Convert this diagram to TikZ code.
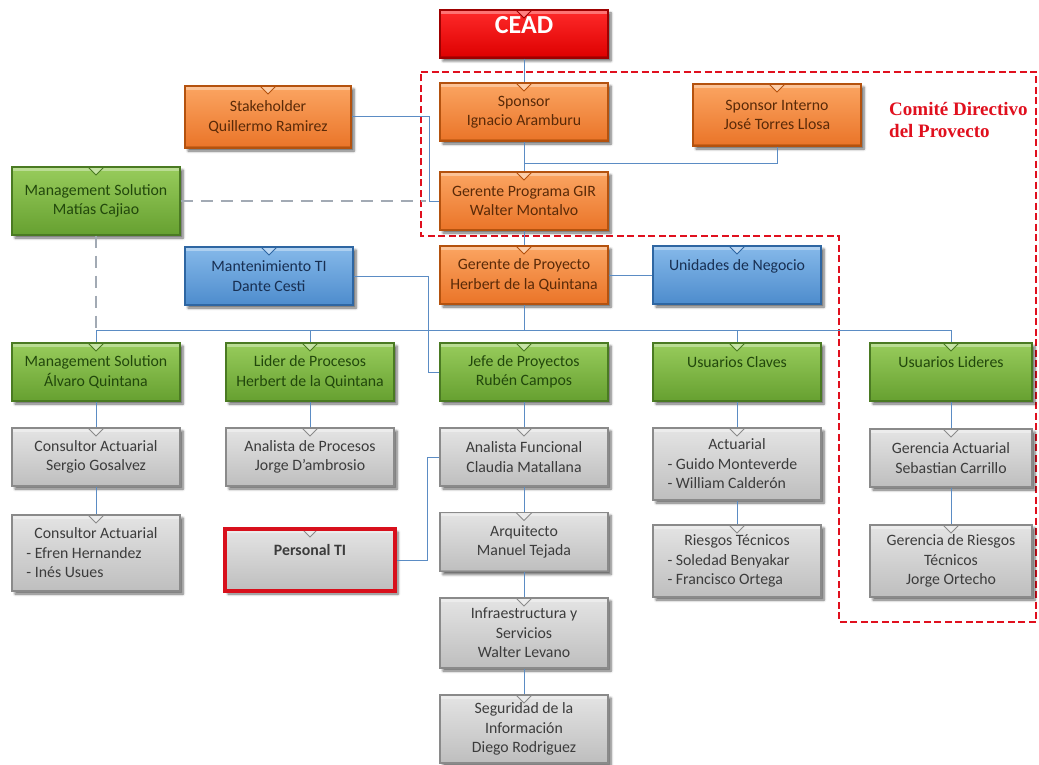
\documentclass[tikz,border=0pt]{standalone}
\usepackage{fontspec}
\setmainfont{Carlito}
\newfontfamily\titleserif{Liberation Serif}
\usetikzlibrary{shadows.blur}

% box palettes
\definecolor{orgTop}{HTML}{FBA562}
\definecolor{orgBot}{HTML}{EA7428}
\definecolor{orgLine}{HTML}{B4520E}
\definecolor{orgText}{HTML}{5A2A08}
\definecolor{grnTop}{HTML}{98CC5C}
\definecolor{grnBot}{HTML}{66A030}
\definecolor{grnLine}{HTML}{4A7A22}
\definecolor{grnText}{HTML}{22480C}
\definecolor{bluTop}{HTML}{86B9EA}
\definecolor{bluBot}{HTML}{4D8CCD}
\definecolor{bluLine}{HTML}{2E66A2}
\definecolor{bluText}{HTML}{182F52}
\definecolor{gryTop}{HTML}{E4E4E4}
\definecolor{gryBot}{HTML}{BEBEBE}
\definecolor{gryLine}{HTML}{8A8A8A}
\definecolor{gryText}{HTML}{3C3C3C}
\definecolor{redTop}{HTML}{FF2A2A}
\definecolor{redBot}{HTML}{DD0000}
\definecolor{redLine}{HTML}{9E0000}
\definecolor{alertRed}{HTML}{D8101C}
\definecolor{commRed}{HTML}{E0101E}
\definecolor{connBlue}{HTML}{5B8CC4}
\definecolor{linkGray}{HTML}{A2AAB4}

% bevel edges and the little V notch at the top centre of every box
\newcommand\notchmark[2]{%
  \draw[#2, line width=3pt, opacity=0.55]
            (path picture bounding box.north east) --
            (path picture bounding box.south east) --
            (path picture bounding box.south west);
  \draw[white, opacity=0.35, line width=2.5pt]
            ([yshift=-2.5pt]path picture bounding box.north west) --
            ([yshift=-2.5pt]path picture bounding box.north east);
  \fill[#1] ([xshift=-8pt]path picture bounding box.north) --
            ([xshift=8pt]path picture bounding box.north) --
            ([yshift=-8pt]path picture bounding box.north) -- cycle;
  \draw[#2, line width=0.8pt] ([xshift=-8pt]path picture bounding box.north) --
            ([yshift=-8pt]path picture bounding box.north) --
            ([xshift=8pt]path picture bounding box.north);
}

\tikzset{
  box/.style={draw, line width=1.2pt, minimum width=168pt, minimum height=58pt,
    inner sep=2pt, align=center, font=\fontsize{15.8}{19.5}\selectfont,
    blur shadow={shadow xshift=3pt, shadow yshift=-3pt,
      shadow blur radius=2.5pt, shadow blur steps=5, shadow opacity=60}},
  orangebox/.style={box, top color=orgTop, bottom color=orgBot, draw=orgLine,
    text=orgText, path picture={\notchmark{orgTop!55!white}{orgLine}}},
  greenbox/.style={box, top color=grnTop, bottom color=grnBot, draw=grnLine,
    text=grnText, path picture={\notchmark{grnTop!55!white}{grnLine}}},
  bluebox/.style={box, top color=bluTop, bottom color=bluBot, draw=bluLine,
    text=bluText, path picture={\notchmark{bluTop!55!white}{bluLine}}},
  graybox/.style={box, top color=gryTop, bottom color=gryBot, draw=gryLine,
    text=gryText, path picture={\notchmark{gryTop!70!white}{gryLine}}},
  redbox/.style={box, top color=redTop, bottom color=redBot, draw=redLine,
    text=white, path picture={\notchmark{redTop!60!white}{redLine}}},
  alertbox/.style={graybox, draw=alertRed, line width=4.5pt},
  conn/.style={draw=connBlue, line width=1pt},
  dashlink/.style={draw=linkGray, line width=2pt, dash pattern=on 12pt off 8pt},
  committee/.style={draw=commRed, line width=2.5pt, dash pattern=on 7pt off 3.5pt}
}

\newcommand\listline[1]{\makebox[139pt][l]{#1}}

\begin{document}
\begin{tikzpicture}[x=1pt, y=-1pt]
\useasboundingbox (0,0) rectangle (1039,765);

% steering committee frame
\draw[committee] (421,72) -- (1036,72) -- (1036,622) -- (839,622)
                 -- (839,236) -- (421,236) -- cycle;
\node[font=\titleserif\bfseries\fontsize{19}{22.5}\selectfont, text=commRed,
      align=left, anchor=west, inner sep=0pt] (comite) at (889,120)
      {Comité Directivo\\del Provecto};

% top levels
\node[redbox, minimum height=48pt, font=\bfseries\fontsize{26}{31}\selectfont]
     (cead) at (524,34) {CEAD\\[-13pt]\mbox{}};
\node[orangebox, minimum width=166pt, minimum height=62pt] (stake) at (268,117)
     {Stakeholder\\Quillermo Ramirez};
\node[orangebox] (sponsor) at (524,112) {Sponsor\\Ignacio Aramburu};
\node[orangebox, minimum height=62pt] (sponint) at (777,115)
     {Sponsor Interno\\José Torres Llosa};
\node[orangebox] (gir) at (524,201) {Gerente Programa GIR\\Walter Montalvo};
\node[greenbox, minimum height=68pt] (msmat) at (96,201)
     {Management Solution\\Matías Cajiao};
\node[bluebox] (mant) at (269,276) {Mantenimiento TI\\Dante Cesti};
\node[orangebox] (gproy) at (524,275) {Gerente de Proyecto\\Herbert de la Quintana};
\node[bluebox] (unid) at (737,275) {Unidades de Negocio\\\mbox{}};

% green row
\node[greenbox] (msalv) at (96,372) {Management Solution\\Álvaro Quintana};
\node[greenbox] (lider) at (310,372) {Lider de Procesos\\Herbert de la Quintana};
\node[greenbox] (jefe) at (524,372) {Jefe de Proyectos\\Rubén Campos};
\node[greenbox] (usucl) at (737,372) {Usuarios Claves\\\mbox{}};
\node[greenbox, minimum width=162pt] (usuli) at (951,372) {Usuarios Lideres\\\mbox{}};

% first grey row
\node[graybox] (cons1) at (96,457) {Consultor Actuarial\\Sergio Gosalvez};
\node[graybox] (anproc) at (310,457) {Analista de Procesos\\Jorge D’ambrosio};
\node[graybox] (anfun) at (524,457) {Analista Funcional\\Claudia Matallana};
\node[graybox, minimum height=72pt] (actu) at (737,464)
     {Actuarial\\\listline{- Guido Monteverde}\\\listline{- William Calderón}};
\node[graybox, minimum width=162pt] (geract) at (951,458)
     {Gerencia Actuarial\\Sebastian Carrillo};

% second grey row
\node[graybox, minimum height=76pt] (cons2) at (96,553)
     {Consultor Actuarial\\\listline{- Efren Hernandez}\\\listline{- Inés Usues}};
\node[alertbox, minimum width=170pt, minimum height=62pt] (perso) at (310,560)
     {\textbf{Personal TI}\\\mbox{}};
\node[graybox, minimum height=59pt] (arq) at (524,542) {Arquitecto\\Manuel Tejada};
\node[graybox, minimum height=72pt] (ries) at (737,561)
     {Riesgos Técnicos\\\listline{- Soledad Benyakar}\\\listline{- Francisco Ortega}};
\node[graybox, minimum width=162pt, minimum height=72pt] (gerries) at (951,561)
     {Gerencia de Riesgos\\Técnicos\\Jorge Ortecho};

% IT column
\node[graybox, minimum height=70pt] (infra) at (524,633)
     {Infraestructura y\\Servicios\\Walter Levano};
\node[graybox, minimum height=68pt] (segu) at (524,729)
     {Seguridad de la\\Información\\Diego Rodriguez};

% junction points
\coordinate (sj) at (524,164);
\coordinate (bus) at (524,330);

% connectors
\draw[conn] (cead.south) -- (sponsor.north);
\draw[conn] (sponsor.south) -- (gir.north);
\draw[conn] (sponint.south) |- (sj);
\draw[conn] (stake.east) -- ++(78,0) |- (gir.west);
\draw[dashlink] (msmat.east) -- ++(245,0);
\draw[dashlink] (msmat.south) -- (msmat.south |- bus);
\draw[conn] (gir.south) -- (gproy.north);
\draw[conn] (gproy.east) -- (unid.west);
\draw[conn] (gproy.south) -- (bus);
\draw[conn] (bus) -| (msalv.north);
\draw[conn] (bus) -| (lider.north);
\draw[conn] (bus) -| (usucl.north);
\draw[conn] (bus) -| (usuli.north);
\draw[conn] (mant.east) -- ++(75,0) |- (jefe.west);
\draw[conn] (msalv.south) -- (cons1.north);
\draw[conn] (cons1.south) -- (cons2.north);
\draw[conn] (lider.south) -- (anproc.north);
\draw[conn] (jefe.south) -- (anfun.north);
\draw[conn] (anfun.south) -- (arq.north);
\draw[conn] (arq.south) -- (infra.north);
\draw[conn] (infra.south) -- (segu.north);
\draw[conn] (perso.east) -- ++(30,0) |- (anfun.west);
\draw[conn] (usucl.south) -- (actu.north);
\draw[conn] (actu.south) -- (ries.north);
\draw[conn] (usuli.south) -- (geract.north);
\draw[conn] (geract.south) -- (gerries.north);
\end{tikzpicture}
\end{document}
